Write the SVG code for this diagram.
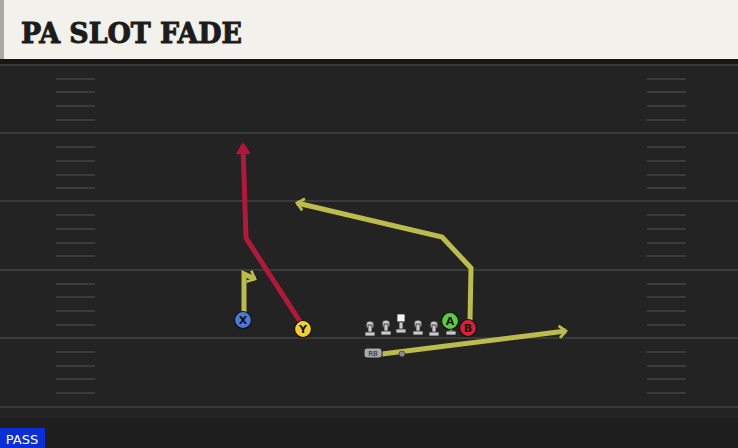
<svg xmlns="http://www.w3.org/2000/svg" width="738" height="448" viewBox="0 0 738 448">
<style>
.yard{stroke:#3a3a3a;stroke-width:2}
.hash{stroke:#3b3b3b;stroke-width:2}
.rt{fill:none;stroke-width:5;stroke-linejoin:miter;stroke-linecap:butt}
.yl{stroke:#bcbc4c}
.rd{stroke:#b3173a}
.lm{fill:#c9c9c9;stroke:#2a2a2a;stroke-width:0.8}
.pl{stroke:#111;stroke-width:1.2}
.lab{font-family:"DejaVu Sans",sans-serif;font-weight:bold;font-size:11px;fill:#111;text-anchor:middle}
</style>
<defs>
<marker id="ay" viewBox="0 0 10 10" refX="7" refY="5" markerWidth="3" markerHeight="3" orient="auto" markerUnits="strokeWidth">
<path d="M2.5,1 L7,5 L2.5,9" fill="none" stroke="#bcbc4c" stroke-width="1.8"/>
</marker>
<marker id="ar" viewBox="0 0 10 10" refX="7" refY="5" markerWidth="2.8" markerHeight="2.8" orient="auto" markerUnits="strokeWidth">
<path d="M1,0.5 L8,5 L1,9.5 Z" fill="#b3173a" stroke="#b3173a" stroke-width="1"/>
</marker>
</defs>
<rect x="0" y="0" width="738" height="448" fill="#232323"/>
<rect x="0" y="418" width="738" height="30" fill="#1e1e1e"/>
<g id="field">
<line class="yard" x1="0" y1="65" x2="738" y2="65"/>
<line class="yard" x1="0" y1="133" x2="738" y2="133"/>
<line class="yard" x1="0" y1="201" x2="738" y2="201"/>
<line class="yard" x1="0" y1="270" x2="738" y2="270"/>
<line class="yard" x1="0" y1="338" x2="738" y2="338"/>
<line class="yard" x1="0" y1="407" x2="738" y2="407"/>
<g class="hash">
<line x1="56" y1="79" x2="95" y2="79"/><line x1="56" y1="92" x2="95" y2="92"/><line x1="56" y1="106" x2="95" y2="106"/><line x1="56" y1="120" x2="95" y2="120"/>
<line x1="56" y1="147" x2="95" y2="147"/><line x1="56" y1="161" x2="95" y2="161"/><line x1="56" y1="175" x2="95" y2="175"/><line x1="56" y1="188" x2="95" y2="188"/>
<line x1="56" y1="215" x2="95" y2="215"/><line x1="56" y1="229" x2="95" y2="229"/><line x1="56" y1="243" x2="95" y2="243"/><line x1="56" y1="256" x2="95" y2="256"/>
<line x1="56" y1="284" x2="95" y2="284"/><line x1="56" y1="297" x2="95" y2="297"/><line x1="56" y1="311" x2="95" y2="311"/><line x1="56" y1="325" x2="95" y2="325"/>
<line x1="56" y1="352" x2="95" y2="352"/><line x1="56" y1="366" x2="95" y2="366"/><line x1="56" y1="379" x2="95" y2="379"/><line x1="56" y1="393" x2="95" y2="393"/>
<line x1="647" y1="79" x2="686" y2="79"/><line x1="647" y1="92" x2="686" y2="92"/><line x1="647" y1="106" x2="686" y2="106"/><line x1="647" y1="120" x2="686" y2="120"/>
<line x1="647" y1="147" x2="686" y2="147"/><line x1="647" y1="161" x2="686" y2="161"/><line x1="647" y1="175" x2="686" y2="175"/><line x1="647" y1="188" x2="686" y2="188"/>
<line x1="647" y1="215" x2="686" y2="215"/><line x1="647" y1="229" x2="686" y2="229"/><line x1="647" y1="243" x2="686" y2="243"/><line x1="647" y1="256" x2="686" y2="256"/>
<line x1="647" y1="284" x2="686" y2="284"/><line x1="647" y1="297" x2="686" y2="297"/><line x1="647" y1="311" x2="686" y2="311"/><line x1="647" y1="325" x2="686" y2="325"/>
<line x1="647" y1="352" x2="686" y2="352"/><line x1="647" y1="366" x2="686" y2="366"/><line x1="647" y1="379" x2="686" y2="379"/><line x1="647" y1="393" x2="686" y2="393"/>
</g>
</g>
<g id="header">
<rect x="0" y="0" width="738" height="59" fill="#f3f1eb"/>
<rect x="0" y="0" width="4" height="59" fill="#a8aaa5"/>
<rect x="0" y="59" width="738" height="5" fill="#171717"/>
<text x="21" y="43" font-family="'DejaVu Serif',serif" font-weight="bold" font-size="28" fill="#1c1c1c" stroke="#1c1c1c" stroke-width="1" textLength="221" lengthAdjust="spacingAndGlyphs">PA SLOT FADE</text>
</g>
<g id="connectors">
<path class="rt rd" d="M301,323 L246,238 L243,145" marker-end="url(#ar)"/>
<path class="rt yl" d="M244,313 L244,274 L255,279" marker-end="url(#ay)"/>
<path class="rt yl" d="M470,321 L471,268 L442,237 L297,203" marker-end="url(#ay)"/>
<path class="rt yl" d="M382,354 L566,331" marker-end="url(#ay)"/>
</g>
<g id="line">
<g id="lt1"><circle class="lm" cx="370" cy="325" r="4"/><rect class="lm" x="368" y="325" width="4" height="8"/><rect class="lm" x="365" y="332" width="10" height="4"/></g>
<g id="lt2"><circle class="lm" cx="386" cy="324" r="4"/><rect class="lm" x="384" y="324" width="4" height="8"/><rect class="lm" x="381" y="331" width="10" height="4"/></g>
<g id="center"><rect x="397" y="314" width="8" height="8" fill="#f4f4f4" stroke="#2a2a2a" stroke-width="0.8"/><rect class="lm" x="399" y="322" width="4" height="8"/><rect class="lm" x="396" y="329" width="10" height="4"/></g>
<g id="lt4"><circle class="lm" cx="418" cy="324" r="4"/><rect class="lm" x="416" y="324" width="4" height="8"/><rect class="lm" x="413" y="331" width="10" height="4"/></g>
<g id="lt5"><circle class="lm" cx="434" cy="325" r="4"/><rect class="lm" x="432" y="325" width="4" height="8"/><rect class="lm" x="429" y="332" width="10" height="4"/></g>
<g id="lt6"><rect class="lm" x="449" y="326" width="4" height="6"/><rect class="lm" x="446" y="331" width="10" height="4"/></g>
</g>
<g id="X"><circle class="pl" cx="243" cy="320" r="8.5" fill="#4a7bd6"/><text class="lab" x="243" y="324">X</text></g>
<g id="Y"><circle class="pl" cx="303" cy="329" r="8.5" fill="#f2cf2a"/><text class="lab" x="303" y="333">Y</text></g>
<g id="A"><circle class="pl" cx="450" cy="321" r="8.5" fill="#5ccc3c"/><text class="lab" x="450" y="325">A</text></g>
<g id="B"><circle class="pl" cx="468" cy="328" r="8.5" fill="#d8203c"/><text class="lab" x="468" y="332">B</text></g>
<g id="RB"><rect x="364" y="348" width="18" height="10" rx="3" fill="#a9a9a9" stroke="#222" stroke-width="1"/><text x="373" y="356" font-family="'DejaVu Sans',sans-serif" font-size="7" fill="#222" text-anchor="middle">RB</text></g>
<g id="qb"><circle cx="402" cy="354" r="3" fill="#8a8a8a" stroke="#222" stroke-width="0.6"/></g>
<g id="pass"><rect x="0" y="428" width="45" height="20" fill="#0a2fd6"/><text x="22" y="444" font-family="'DejaVu Sans',sans-serif" font-size="13" fill="#ffffff" text-anchor="middle">PASS</text></g>
</svg>
